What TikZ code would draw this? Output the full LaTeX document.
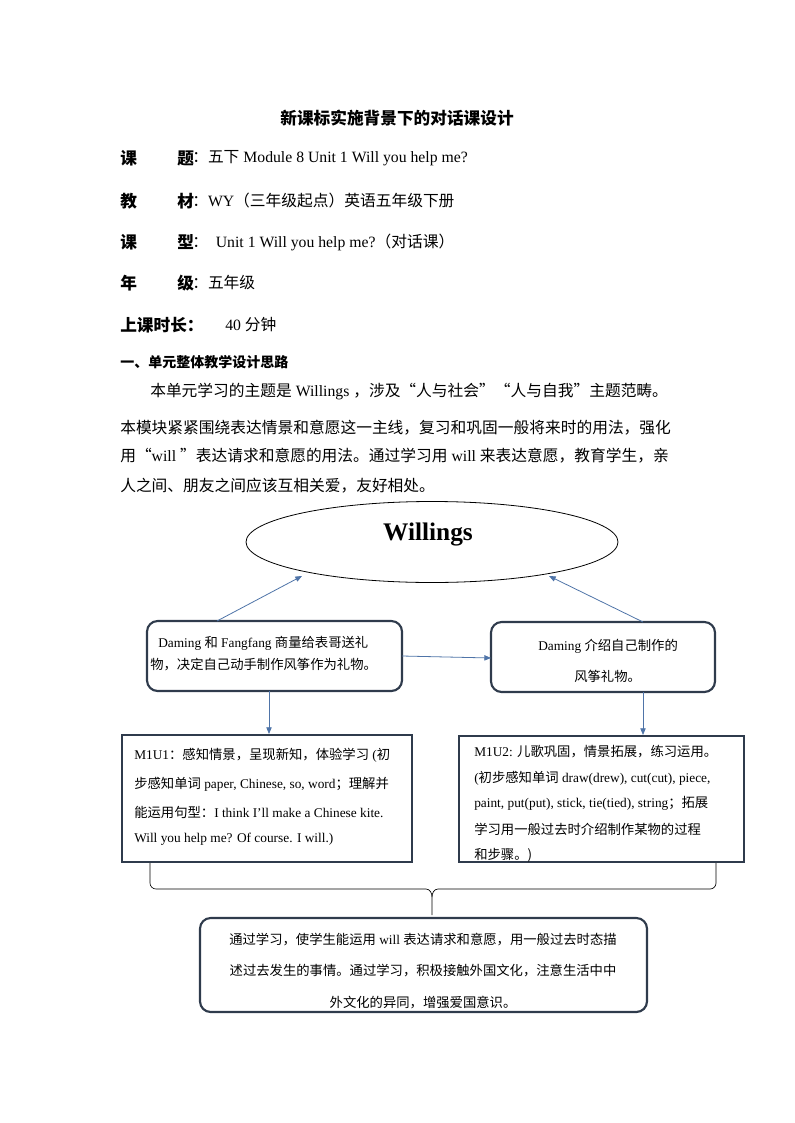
\documentclass[tikz,border=0pt]{standalone}
\usepackage{fontspec}
\setmainfont{Liberation Serif}
\newfontfamily\cjk{Noto Sans CJK SC}
\newcommand\C[1]{{\cjk #1}}
\usetikzlibrary{arrows.meta,shapes.geometric}
\definecolor{bd}{HTML}{2F3B4C}
\definecolor{ar}{HTML}{4F74A8}
\tikzset{
  txt/.style={anchor=west,inner sep=0pt,font=\fontsize{11.8}{13}\selectfont},
  hd/.style={anchor=west,inner sep=0pt,font=\fontsize{12.5}{14}\selectfont\bfseries},
  btxt/.style={anchor=west,inner sep=0pt,font=\fontsize{10}{11}\selectfont},
  rbox/.style={draw=bd,line width=1.6pt,rounded corners=8pt},
  sbox/.style={draw=bd,line width=1.6pt},
  arr/.style={draw=ar,line width=0.6pt,-{Triangle[length=5pt,width=4pt]}},
}
\begin{document}
\begin{tikzpicture}[x=0.75pt,y=-0.75pt]
\useasboundingbox (0,0) rectangle (794,1123);
\node[inner sep=0pt,font=\fontsize{12.5}{14}\selectfont\bfseries] (title) at (397,118) {\C{新课标实施背景下的对话课设计}};
\node[hd] (k1) at (120,158) {\C{课}};
\node[hd] (k2) at (177,158) {\C{题}};
\node[txt] (k3) at (192,158) {\C{：五下} Module 8 Unit 1 Will you help me?};
\node[hd] (j1) at (120,201) {\C{教}};
\node[hd] (j2) at (177,201) {\C{材}};
\node[txt] (j3) at (192,201) {\C{：}WY\C{（三年级起点）英语五年级下册}};
\node[hd] (x1) at (120,242) {\C{课}};
\node[hd] (x2) at (177,242) {\C{型}};
\node[txt] (x3) at (192,242) {\C{：} \ Unit 1 Will you help me?\C{（对话课）}};
\node[hd] (n1) at (120,283) {\C{年}};
\node[hd] (n2) at (177,283) {\C{级}};
\node[txt] (n3) at (192,283) {\C{：五年级}};
\node[hd] (s1) at (120,325) {\C{上课时长：}};
\node[txt] (s2) at (225,325) {40 \C{分钟}};
\node[hd,font=\fontsize{10.5}{12}\selectfont\bfseries] (h1) at (120,362) {\C{一、单元整体教学设计思路}};
\node[txt] (p1) at (150,392) {\C{本单元学习的主题是} Willings \C{，涉及“人与社会”“人与自我”主题范畴。}};
\node[txt] (p2) at (120,428) {\C{本模块紧紧围绕表达情景和意愿这一主线，复习和巩固一般将来时的用法，强化}};
\node[txt] (p3) at (120,456) {\C{用“}will \C{”表达请求和意愿的用法。通过学习用} will \C{来表达意愿，教育学生，亲}};
\node[txt] (p4) at (120,486) {\C{人之间、朋友之间应该互相关爱，友好相处。}};
% diagram
\node[ellipse,draw,line width=0.6pt,minimum width=372*0.75pt,minimum height=81*0.75pt,inner sep=0pt] (el) at (432,542) {};
\node[inner sep=0pt,font=\fontsize{19}{22}\selectfont\bfseries] (wl) at (428,535) {Willings};
\draw[rbox] (147,621) rectangle (402,691);
\coordinate (b1t) at (217,621); \coordinate (b1r) at (402,656); \coordinate (b1b) at (269,691);
\node[btxt] (b1a) at (158,643) {Daming \C{和} Fangfang \C{商量给表哥送礼}};
\node[btxt] (b1b2) at (150,665) {\C{物，决定自己动手制作风筝作为礼物。}};
\draw[rbox] (491,622) rectangle (715,692);
\coordinate (b2t) at (643,622); \coordinate (b2l) at (491,658); \coordinate (b2b) at (643,692);
\node[btxt] (b2a) at (538,646) {Daming \C{介绍自己制作的}};
\node[btxt] (b2b2) at (574,676) {\C{风筝礼物。}};
\coordinate (e1) at (302,576); \coordinate (e2) at (549,576);
\draw[arr] (b1t) -- (e1);
\draw[arr] (b2t) -- (e2);
\draw[arr] (b1r) -- (b2l);
\coordinate (b3t) at (269,734); \coordinate (b4t) at (643,735);
\draw[arr] (b1b) -- (b3t);
\draw[arr] (b2b) -- (b4t);
\draw[sbox] (122,735) rectangle (412,862);
\node[btxt] (c1) at (134,755) {M1U1\C{：感知情景，呈现新知，体验学习} (\C{初}};
\node[btxt] (c2) at (134,784) {\C{步感知单词} paper, Chinese, so, word\C{；理解并}};
\node[btxt] (c3) at (134,812) {\C{能运用句型：}I think I'll make a Chinese kite.};
\node[btxt] (c4) at (134,839) {Will you help me? Of course. I will.)};
\draw[sbox] (459,736) rectangle (744,862);
\node[btxt] (d1) at (474,752) {M1U2: \C{儿歌巩固，情景拓展，练习运用。}};
\node[btxt] (d2) at (474,778) {(\C{初步感知单词} draw(drew), cut(cut), piece,};
\node[btxt] (d3) at (474,803) {paint, put(put), stick, tie(tied), string\C{；拓展}};
\node[btxt] (d4) at (474,829) {\C{学习用一般过去时介绍制作某物的过程}};
\node[btxt] (d5) at (474,855) {\C{和步骤。)}};
\coordinate (brL) at (150,863); \coordinate (brR) at (716,863); \coordinate (brT) at (432,915);
\draw[line width=0.5pt] (brL) -- (150,883) to[out=-90,in=180] (156,889) -- (426,889) to[out=0,in=90] (432,897) -- (brT);
\draw[line width=0.5pt] (brR) -- (716,883) to[out=-90,in=0] (710,889) -- (438,889) to[out=180,in=90] (432,897);
\draw[rbox] (200,918) rectangle (647,1012);
\node[btxt,anchor=center] (f1) at (423,940) {\C{通过学习，使学生能运用} will \C{表达请求和意愿，用一般过去时态描}};
\node[btxt,anchor=center] (f2) at (423,971) {\C{述过去发生的事情。通过学习，积极接触外国文化，注意生活中中}};
\node[btxt,anchor=center] (f3) at (423,1003) {\C{外文化的异同，增强爱国意识。}};
\end{tikzpicture}
\end{document}
